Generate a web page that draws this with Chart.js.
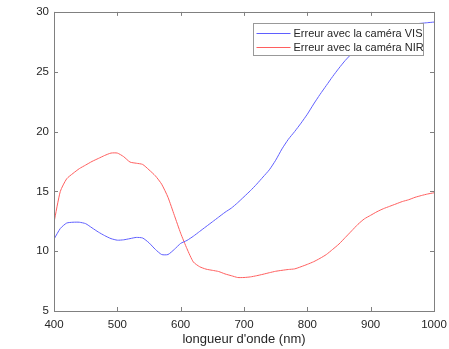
<!DOCTYPE html>
<html>
<head>
<meta charset="utf-8">
<script src="https://cdn.jsdelivr.net/npm/chart.js@4"></script>
<style>
  html, body { margin: 0; padding: 0; background: #fff; }
  #wrap { width: 449px; height: 349px; }
</style>
</head>
<body>
<div id="wrap"><canvas id="errChart"></canvas></div>
<script>
const wavelengths = [400, 410, 420, 430, 440, 450, 460, 470, 480, 490,
  500, 510, 520, 530, 540, 550, 560, 570, 580, 590,
  600, 610, 620, 630, 640, 650, 660, 670, 680, 690,
  700, 710, 720, 730, 740, 750, 760, 770, 780, 790,
  800, 810, 820, 830, 840, 850, 860, 870, 880, 890,
  900, 910, 920, 930, 940, 950, 960, 970, 980, 990, 1000];

const errVIS = [11.0, 11.9, 12.35, 12.42, 12.42, 12.3, 11.95, 11.6, 11.3, 11.05,
  10.92, 10.95, 11.05, 11.15, 11.1, 10.7, 10.15, 9.72, 9.72, 10.15,
  10.65, 10.9, 11.25, 11.65, 12.05, 12.45, 12.85, 13.25, 13.6, 14.05,
  14.55, 15.05, 15.6, 16.2, 16.8, 17.6, 18.55, 19.35, 20.0, 20.7,
  21.45, 22.3, 23.1, 23.85, 24.6, 25.3, 25.95, 26.5, 26.95, 27.35,
  27.7, 28.0, 28.25, 28.5, 28.65, 28.8, 28.9, 29.0, 29.05, 29.1, 29.15];

const errNIR = [12.4, 15.0, 16.05, 16.5, 16.9, 17.2, 17.5, 17.75, 18.0, 18.2,
  18.2, 17.9, 17.45, 17.35, 17.25, 16.8, 16.3, 15.6, 14.5, 13.0,
  11.5, 10.2, 9.1, 8.7, 8.5, 8.4, 8.3, 8.1, 7.95, 7.8,
  7.8, 7.85, 7.95, 8.07, 8.2, 8.32, 8.4, 8.47, 8.52, 8.7,
  8.9, 9.12, 9.4, 9.72, 10.15, 10.6, 11.15, 11.7, 12.25, 12.7,
  13.0, 13.3, 13.55, 13.75, 13.95, 14.15, 14.3, 14.5, 14.65, 14.78, 14.88];

const seriesLabels = ["Erreur avec la caméra VIS", "Erreur avec la caméra NIR"];
const xTitle = "longueur d'onde (nm)";

const axisColor = "#808080";
const textColor = "#262626";

// box round the plot + MATLAB style inward ticks
const boxPlugin = {
  id: "box",
  afterDatasetsDraw(chart) {
    const { ctx, chartArea: a, scales } = chart;
    ctx.save();
    ctx.strokeStyle = axisColor;
    ctx.lineWidth = 1;
    ctx.beginPath();
    scales.x.ticks.forEach(t => {
      const px = Math.round(scales.x.getPixelForValue(t.value)) + 0.5;
      ctx.moveTo(px, a.bottom); ctx.lineTo(px, a.bottom - 4);
      ctx.moveTo(px, a.top); ctx.lineTo(px, a.top + 4);
    });
    scales.y.ticks.forEach(t => {
      const py = Math.round(scales.y.getPixelForValue(t.value)) + 0.5;
      ctx.moveTo(a.left, py); ctx.lineTo(a.left + 4, py);
      ctx.moveTo(a.right, py); ctx.lineTo(a.right - 4, py);
    });
    ctx.stroke();
    ctx.strokeRect(Math.round(a.left) + 0.5, Math.round(a.top) + 0.5,
      Math.round(a.right - a.left), Math.round(a.bottom - a.top));

    // legend box, top right inside the axes
    const w = 170, h = 32;
    const lx = Math.round(a.right - 11 - w) + 0.5, ly = Math.round(a.top + 11) + 0.5;
    ctx.fillStyle = "#fff";
    ctx.fillRect(lx, ly, w, h);
    ctx.strokeStyle = "#999";
    ctx.strokeRect(lx, ly, w, h);
    ctx.font = "11px 'Liberation Sans', Arial, sans-serif";
    ctx.textBaseline = "middle";
    chart.data.datasets.forEach((ds, i) => {
      const yy = Math.round(ly + 9 + i * 14.5);
      ctx.strokeStyle = ds.borderColor;
      ctx.beginPath();
      ctx.moveTo(lx + 3, yy + 0.5);
      ctx.lineTo(lx + 37, yy + 0.5);
      ctx.stroke();
      ctx.fillStyle = textColor;
      ctx.fillText(ds.label, lx + 40, yy + 1);
    });
    ctx.restore();
  }
};

const toPoints = vals => vals.map((v, i) => ({ x: wavelengths[i], y: v }));

new Chart(document.getElementById("errChart"), {
  type: "line",
  data: {
    datasets: [
      { label: seriesLabels[0], data: toPoints(errVIS), borderColor: "rgb(95,95,255)", borderWidth: 1, pointRadius: 0, tension: 0.2 },
      { label: seriesLabels[1], data: toPoints(errNIR), borderColor: "rgb(255,95,95)", borderWidth: 1, pointRadius: 0, tension: 0.2 }
    ]
  },
  options: {
    responsive: true,
    maintainAspectRatio: false,
    animation: false,
    layout: { padding: { top: 10, right: 15, left: 0, bottom: 0 } },
    plugins: { legend: { display: false }, tooltip: { enabled: false } },
    scales: {
      x: {
        type: "linear", min: 400, max: 1000,
        grid: { display: false, drawTicks: false },
        border: { display: false },
        ticks: { stepSize: 100, padding: 7, color: textColor, maxRotation: 0,
          callback: v => String(v),
          font: { family: "'Liberation Sans', Arial, sans-serif", size: 11.5 } },
        title: { display: true, text: xTitle, color: textColor, padding: { top: 0, bottom: 2 },
          font: { family: "'Liberation Sans', Arial, sans-serif", size: 13 } },
        afterFit: s => { s.height = 38; s.paddingRight = 0; }
      },
      y: {
        min: 5, max: 30,
        grid: { display: false, drawTicks: false },
        border: { display: false },
        ticks: { stepSize: 5, padding: 5, color: textColor,
          font: { family: "'Liberation Sans', Arial, sans-serif", size: 11.5 } },
        afterFit: s => { s.width = 54; }
      }
    }
  },
  plugins: [boxPlugin]
});
</script>
</body>
</html>
